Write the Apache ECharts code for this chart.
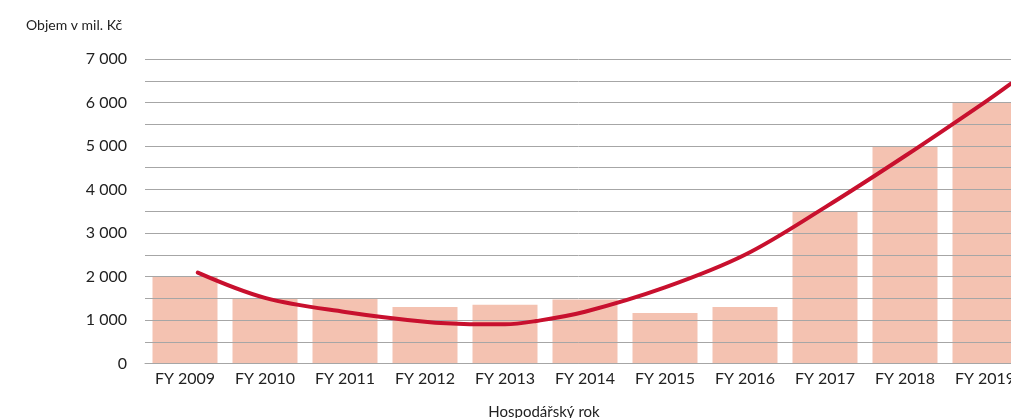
<!DOCTYPE html>
<html>
<head>
<meta charset="utf-8">
<script src="https://cdn.jsdelivr.net/npm/echarts@6/dist/echarts.min.js"></script>
<style>
  html, body { margin: 0; padding: 0; background: #fff; }
  #chart { width: 1011px; height: 418px; }
</style>
</head>
<body>
<div id="chart"></div>
<script>
// categories and volumes (mil. Kč)
const years = ['FY 2009', 'FY 2010', 'FY 2011', 'FY 2012', 'FY 2013', 'FY 2014',
  'FY 2015', 'FY 2016', 'FY 2017', 'FY 2018', 'FY 2019'];
const volumes = [2000, 1500, 1480, 1300, 1350, 1470, 1160, 1300, 3500, 5000, 6000];

// trend curve (x = category index, y = value)
const trendX = [0.16, 1, 2, 3, 3.56, 4, 4.39, 5, 6, 7, 8, 9, 10, 10.32];
const trendY = [2090, 1510, 1185, 960, 905, 900, 977, 1190, 1750, 2500, 3590, 4770, 6010, 6430];

const yTicks = [0, 1000, 2000, 3000, 4000, 5000, 6000, 7000];

const font = 'Lato, "Open Sans", sans-serif';

const chart = echarts.init(document.getElementById('chart'));

const option = {
  animation: false,
  title: [
    {
      text: 'Objem v mil. Kč',
      left: 21,
      top: 13,
      textStyle: { fontFamily: font, fontSize: 14, fontWeight: 'normal', color: '#222' }
    },
    {
      text: 'Hospodářský rok',
      left: 539,
      top: 400,
      textAlign: 'center',
      textStyle: { fontFamily: font, fontSize: 15, fontWeight: 'normal', color: '#222' }
    }
  ],
  grid: {
    left: 145,
    top: 59,
    width: 880,
    height: 304.5,
    outerBoundsMode: 'none'
  },
  xAxis: [
    {
      type: 'category',
      data: years,
      axisLine: { show: true, lineStyle: { color: '#a6a6a6', width: 1 } },
      axisTick: { show: false },
      axisLabel: { fontFamily: font, fontSize: 16, color: '#222', margin: 7 }
    },
    {
      type: 'value',
      min: -0.5,
      max: 10.5,
      show: false
    }
  ],
  yAxis: {
    type: 'value',
    min: 0,
    max: 7000,
    interval: 500,
    axisLine: { show: false },
    axisTick: { show: true, length: 8, lineStyle: { color: '#a6a6a6', width: 1 } },
    splitLine: { lineStyle: { color: '#a6a6a6', width: 1 } },
    axisLabel: {
      fontFamily: font,
      fontSize: 16,
      color: '#222',
      margin: 18,
      formatter: function (v) {
        if (yTicks.indexOf(v) < 0) return '';
        if (v === 0) return '0';
        return Math.floor(v / 1000) + ' 000';
      }
    }
  },
  series: [
    {
      name: 'Objem',
      type: 'bar',
      data: volumes,
      barWidth: 65,
      z: -1,
      itemStyle: { color: '#f4c2b1' }
    },
    {
      name: 'Trend',
      type: 'line',
      xAxisIndex: 1,
      data: trendX.map((x, i) => [x, trendY[i]]),
      smooth: 0.35,
      symbol: 'none',
      z: 5,
      lineStyle: { color: '#c8102e', width: 4, cap: 'round' }
    }
  ]
};

chart.setOption(option);
</script>
</body>
</html>
